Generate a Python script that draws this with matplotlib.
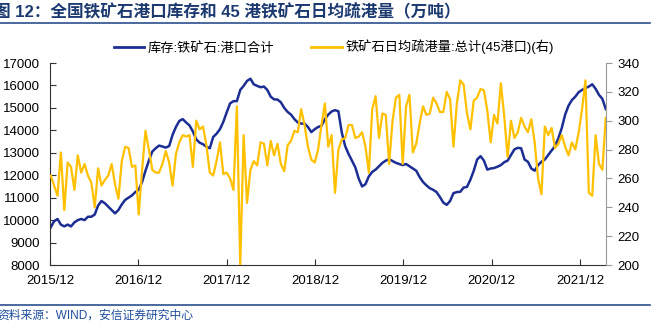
import matplotlib
matplotlib.use('Agg')
import matplotlib.pyplot as plt
import matplotlib.dates as mdates
from matplotlib.lines import Line2D
import pandas as pd

plt.rcParams['font.family'] = ['Liberation Sans', 'Noto Sans CJK SC']

# biweekly readings, Dec 2015 - Mar 2022
dates = pd.date_range('2015-12-04', periods=165, freq='14D')

# 库存:铁矿石:港口合计 (万吨, left axis)
stock = [9680, 9950, 10050, 9800, 9720, 9800, 9720, 9900, 10000, 10050,
         10000, 10150, 10150, 10250, 10650, 10850, 10750, 10600, 10450, 10300,
         10450, 10700, 10900, 11000, 11100, 11250, 11350, 11700, 12200, 12650,
         13050, 13200, 13320, 13280, 13230, 13300, 13800, 14150, 14420, 14500,
         14350, 14220, 13950, 13600, 13450, 13380, 13270, 13200, 13700, 13850,
         14050, 14380, 14800, 15200, 15300, 15300, 15800, 15980, 16200, 16300,
         16050, 15980, 15920, 15950, 15800, 15500, 15380, 15370, 15250, 15000,
         14820, 14700, 14500, 14350, 14300, 14300, 14150, 13920, 14050, 14150,
         14200, 14500, 14700, 14840, 14900, 14850, 13900, 13300, 12950, 12650,
         12350, 11850, 11500, 11600, 11950, 12150, 12250, 12400, 12550, 12650,
         12720, 12630, 12550, 12500, 12450, 12500, 12400, 12300, 12200, 11920,
         11700, 11550, 11420, 11350, 11250, 11030, 10780, 10680, 10850, 11200,
         11250, 11260, 11450, 11480, 11800, 12200, 12700, 12850, 12650, 12250,
         12300, 12320, 12380, 12450, 12580, 12650, 12900, 13150, 13220, 13200,
         12700, 12600, 12300, 12200, 12450, 12600, 12700, 12900, 13100, 13300,
         13650, 14100, 14700, 15100, 15350, 15500, 15700, 15800, 15880, 15950,
         16050, 15850, 15580, 15400, 14950]

# 铁矿石日均疏港量:总计(45港口) (万吨, right axis)
dispatch = [262, 255, 248, 278, 238, 271, 268, 252, 276, 264,
            270, 262, 257, 240, 267, 255, 259, 262, 270, 256,
            246, 272, 282, 281, 268, 269, 235, 266, 293, 280,
            266, 264, 264, 270, 279, 271, 255, 277, 285, 290,
            289, 290, 268, 300, 294, 296, 283, 264, 262, 272,
            285, 263, 264, 260, 252, 310, 200, 290, 243, 266,
            272, 269, 285, 284, 269, 286, 276, 284, 270, 265,
            283, 286, 293, 292, 308, 297, 282, 273, 271, 280,
            297, 312, 282, 290, 250, 280, 287, 288, 297, 297,
            288, 289, 292, 282, 264, 308, 317, 288, 305, 304,
            270, 300, 316, 318, 270, 310, 318, 278, 284, 298,
            310, 304, 305, 316, 312, 306, 306, 320, 315, 282,
            312, 328, 325, 305, 294, 314, 316, 322, 321, 307,
            285, 304, 298, 326, 303, 275, 300, 288, 292, 302,
            296, 292, 301, 285, 260, 249, 296, 290, 295, 281,
            284, 290, 282, 276, 285, 280, 292, 308, 328, 250,
            248, 290, 270, 266, 302]

label_stock = '库存:铁矿石:港口合计'
label_dispatch = '铁矿石日均疏港量:总计(45港口)(右)'
blue = '#1c2e94'
yellow = '#ffc000'

fig = plt.figure(figsize=(6.61, 3.32), dpi=100)
ax = fig.add_axes([50/661, 67/332, 556/661, 202/332])
ax.plot(dates, stock, color=blue, lw=1.8)
ax2 = ax.twinx()
ax2.plot(dates, dispatch, color=yellow, lw=1.6)

ax.set_ylim(8000, 17000)
ax.set_yticks(range(8000, 17001, 1000))
ax2.set_ylim(200, 340)
ax2.set_yticks(range(200, 341, 20))
ax.set_xlim(pd.Timestamp('2015-12-01'), pd.Timestamp('2022-03-19'))
ax.xaxis.set_major_locator(mdates.MonthLocator(bymonth=12, bymonthday=1))
ax.xaxis.set_major_formatter(mdates.DateFormatter('%Y/%m'))

for s in ['top', 'right']:
    ax.spines[s].set_visible(False)
for s in ['top', 'left', 'bottom']:
    ax2.spines[s].set_visible(False)
ax.spines['left'].set_color('#333333')
ax.spines['bottom'].set_color('#333333')
ax2.spines['right'].set_color('#999999')

ax.tick_params(axis='y', direction='in', length=4, labelsize=9.5, pad=7, color='#333333')
ax.tick_params(axis='x', direction='in', length=4, labelsize=9.5, pad=7, color='#333333')
ax2.tick_params(axis='y', direction='out', length=4, labelsize=9.5, pad=4, color='#999999')

handles = [Line2D([], [], color=blue, lw=2), Line2D([], [], color=yellow, lw=2)]
fig.legend(handles, [label_stock, label_dispatch], loc='center',
           bbox_to_anchor=(0.505, 1 - 47/332), ncol=2, frameon=False,
           fontsize=9.5, handlelength=2.3, handletextpad=0.3, columnspacing=2.8)

fig.text(-6/661, 1 - 11/332, '图 12：全国铁矿石港口库存和 45 港铁矿石日均疏港量（万吨）',
         fontsize=12, fontweight='bold', color='#1d3a70', va='center', ha='left')
fig.add_artist(Line2D([0, 650/661], [1 - 23/332] * 2, color='#2b4f8e', lw=1.2))
fig.add_artist(Line2D([0, 650/661], [1 - 305/332] * 2, color='#2b4f8e', lw=1.2))
fig.text(-3/661, 1 - 316/332, '资料来源：WIND，安信证券研究中心',
         fontsize=8.5, color='#1f4e9e', va='center', ha='left')

fig.savefig('out.png', dpi=100)
